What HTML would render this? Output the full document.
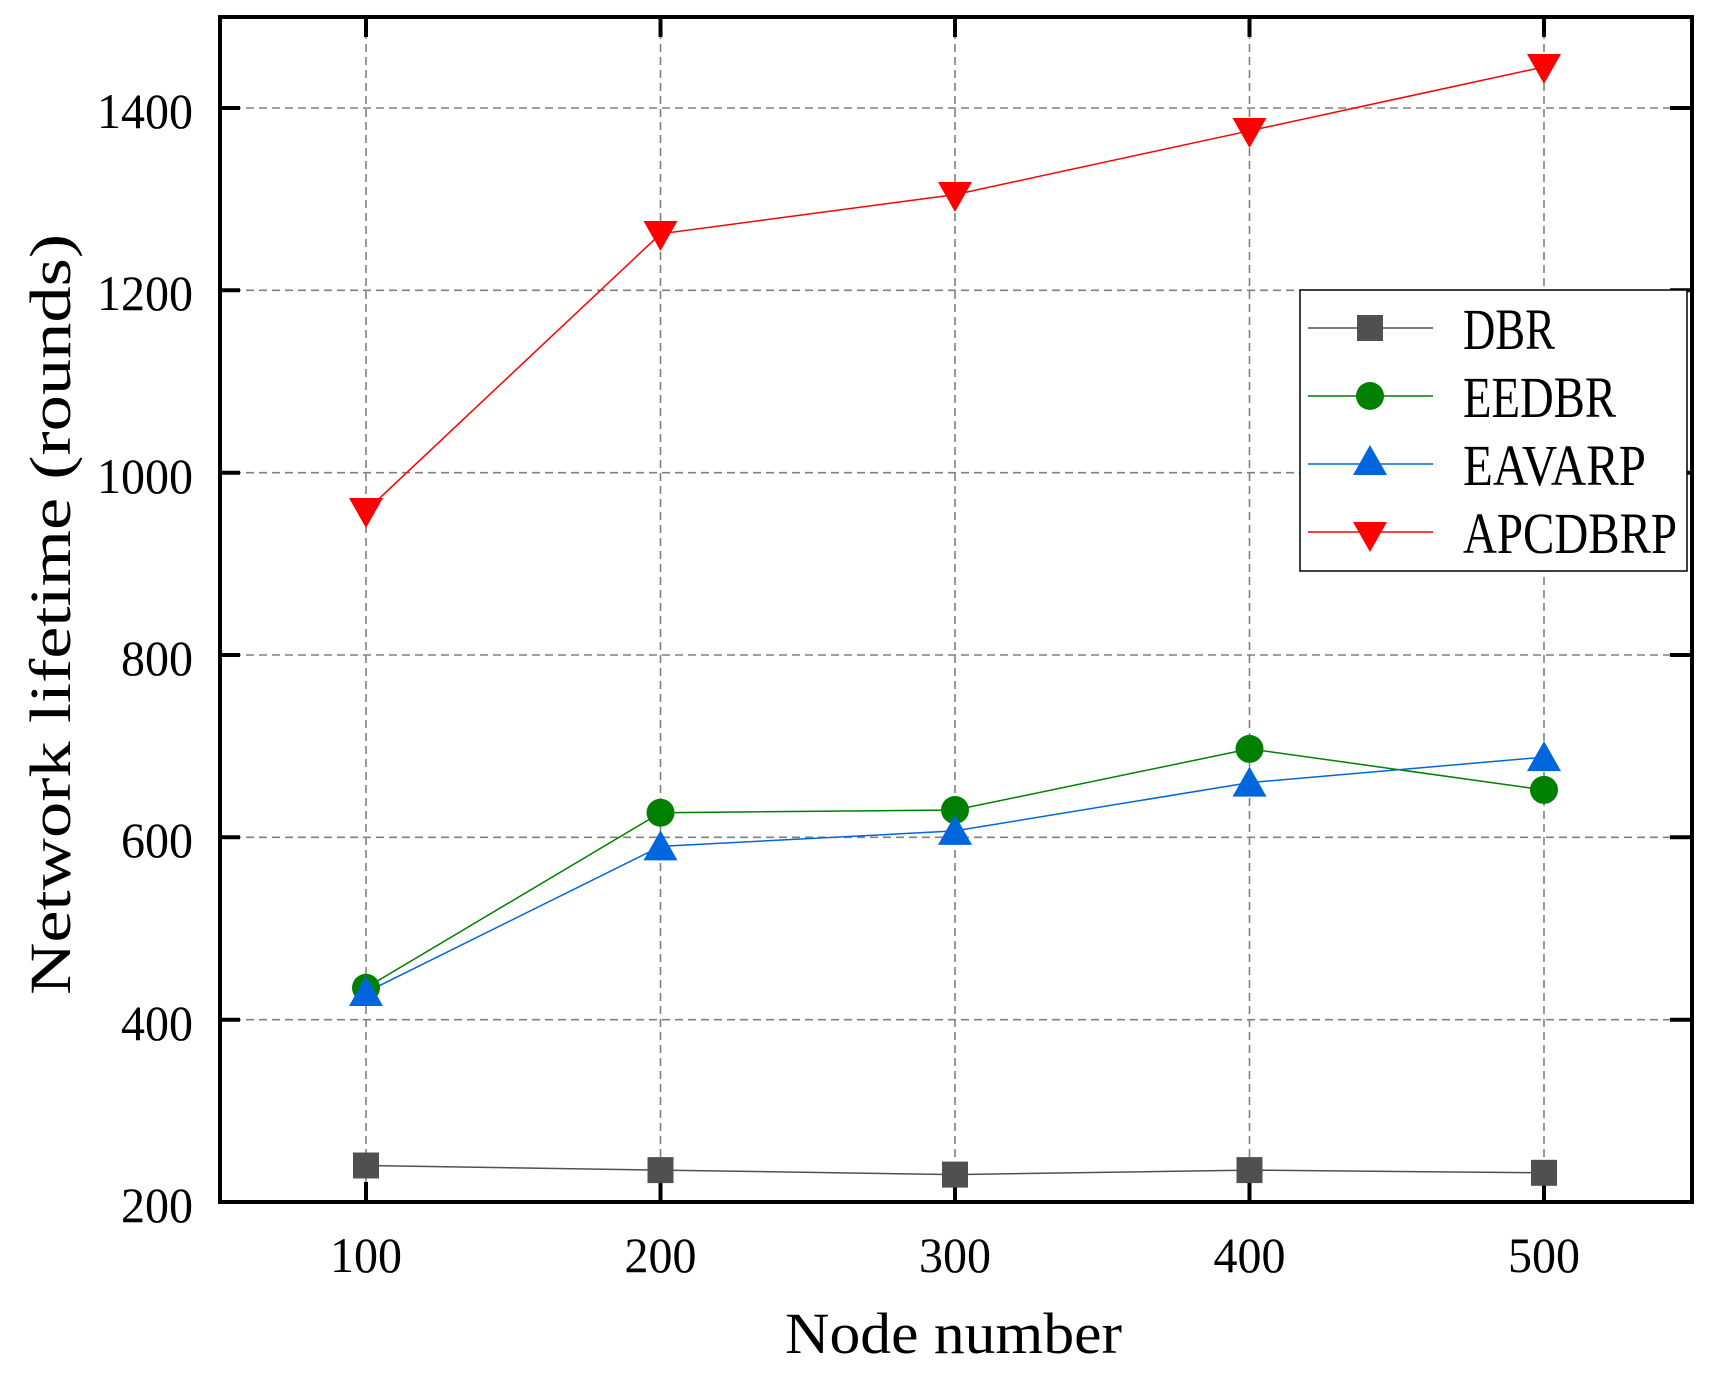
<!DOCTYPE html>
<html><head><meta charset="utf-8"><style>
html,body{margin:0;padding:0;background:#fff;}
svg{display:block;}
text{font-family:"Liberation Serif",serif;fill:#000;}
</style></head><body>
<svg width="1710" height="1375" viewBox="0 0 1710 1375" xmlns="http://www.w3.org/2000/svg">
<rect width="1710" height="1375" fill="#fff"/>
<g stroke="#808080" stroke-width="1.6" stroke-dasharray="8,5" fill="none">
<line x1="220" y1="108" x2="1690" y2="108"/>
<line x1="220" y1="290.3" x2="1690" y2="290.3"/>
<line x1="220" y1="472.7" x2="1690" y2="472.7"/>
<line x1="220" y1="655" x2="1690" y2="655"/>
<line x1="220" y1="837.3" x2="1690" y2="837.3"/>
<line x1="220" y1="1019.7" x2="1690" y2="1019.7"/>
<line x1="366" y1="18" x2="366" y2="1200"/>
<line x1="660.5" y1="18" x2="660.5" y2="1200"/>
<line x1="955" y1="18" x2="955" y2="1200"/>
<line x1="1249.5" y1="18" x2="1249.5" y2="1200"/>
<line x1="1544" y1="18" x2="1544" y2="1200"/>
</g>
<g stroke="#000" stroke-width="4">
<!-- left ticks -->
<line x1="220" y1="108" x2="240" y2="108"/><line x1="220" y1="290.3" x2="240" y2="290.3"/>
<line x1="220" y1="472.7" x2="240" y2="472.7"/><line x1="220" y1="655" x2="240" y2="655"/>
<line x1="220" y1="837.3" x2="240" y2="837.3"/><line x1="220" y1="1019.7" x2="240" y2="1019.7"/>
<!-- right ticks -->
<line x1="1670" y1="108" x2="1690" y2="108"/><line x1="1670" y1="290.3" x2="1690" y2="290.3"/>
<line x1="1670" y1="472.7" x2="1690" y2="472.7"/><line x1="1670" y1="655" x2="1690" y2="655"/>
<line x1="1670" y1="837.3" x2="1690" y2="837.3"/><line x1="1670" y1="1019.7" x2="1690" y2="1019.7"/>
<!-- bottom ticks -->
<line x1="366" y1="1182" x2="366" y2="1202"/><line x1="660.5" y1="1182" x2="660.5" y2="1202"/>
<line x1="955" y1="1182" x2="955" y2="1202"/><line x1="1249.5" y1="1182" x2="1249.5" y2="1202"/>
<line x1="1544" y1="1182" x2="1544" y2="1202"/>
<!-- top ticks -->
<line x1="366" y1="17" x2="366" y2="37"/><line x1="660.5" y1="17" x2="660.5" y2="37"/>
<line x1="955" y1="17" x2="955" y2="37"/><line x1="1249.5" y1="17" x2="1249.5" y2="37"/>
<line x1="1544" y1="17" x2="1544" y2="37"/>
</g>
<rect x="220" y="17" width="1472" height="1185" fill="none" stroke="#000" stroke-width="4"/>

<!-- series -->
<polyline fill="none" stroke="#505050" stroke-width="1.5" points="366,1165.5 660.5,1170.1 955,1174.6 1249.5,1170.1 1544,1172.8"/>
<polyline fill="none" stroke="#008000" stroke-width="1.5" points="366,987.8 660.5,812.7 955,810 1249.5,748.9 1544,789.9"/>
<polyline fill="none" stroke="#0066dd" stroke-width="1.5" points="366,992.3 660.5,846.4 955,830.9 1249.5,782.6 1544,757.1"/>
<polyline fill="none" stroke="#ff0000" stroke-width="1.5" points="366,510.9 660.5,233.8 955,194.6 1249.5,130.8 1544,66.9"/>
<g fill="#505050">
<rect x="353" y="1152.5" width="26" height="26"/><rect x="647.5" y="1157.1" width="26" height="26"/>
<rect x="942" y="1161.6" width="26" height="26"/><rect x="1236.5" y="1157.1" width="26" height="26"/>
<rect x="1531" y="1159.8" width="26" height="26"/>
</g>
<g fill="#008000">
<circle cx="366" cy="987.8" r="14"/><circle cx="660.5" cy="812.7" r="14"/><circle cx="955" cy="810" r="14"/>
<circle cx="1249.5" cy="748.9" r="14"/><circle cx="1544" cy="789.9" r="14"/>
</g>
<g fill="#0066dd">
<polygon points="366,976 383,1006 349,1006"/>
<polygon points="660.5,830.4 677.5,860.4 643.5,860.4"/>
<polygon points="955,814.9 972,844.9 938,844.9"/>
<polygon points="1249.5,766.6 1266.5,796.6 1232.5,796.6"/>
<polygon points="1544,741.1 1561,771.1 1527,771.1"/>
</g>
<g fill="#ff0000">
<polygon points="349,498 383,498 366,528"/>
<polygon points="643.5,221 677.5,221 660.5,251"/>
<polygon points="938,182 972,182 955,212"/>
<polygon points="1232.5,118 1266.5,118 1249.5,148"/>
<polygon points="1527,54 1561,54 1544,84"/>
</g>

<!-- legend -->
<rect x="1300" y="290" width="387" height="281" fill="#fff" stroke="#000" stroke-width="1.5"/>
<line x1="1308" y1="328" x2="1433" y2="328" stroke="#505050" stroke-width="1.5"/>
<rect x="1357" y="315" width="26" height="26" fill="#505050"/>
<line x1="1308" y1="396" x2="1433" y2="396" stroke="#008000" stroke-width="1.5"/>
<circle cx="1370" cy="396" r="14" fill="#008000"/>
<line x1="1308" y1="464" x2="1433" y2="464" stroke="#0066dd" stroke-width="1.5"/>
<polygon points="1370,445 1387,475 1353,475" fill="#0066dd"/>
<line x1="1308" y1="532" x2="1433" y2="532" stroke="#ff0000" stroke-width="1.5"/>
<polygon points="1353,522 1387,522 1370,552" fill="#ff0000"/>
<g font-size="58">
<text x="1463" y="349" textLength="92" lengthAdjust="spacingAndGlyphs">DBR</text>
<text x="1463" y="417" textLength="153" lengthAdjust="spacingAndGlyphs">EEDBR</text>
<text x="1463" y="485" textLength="183" lengthAdjust="spacingAndGlyphs">EAVARP</text>
<text x="1463" y="553" textLength="214" lengthAdjust="spacingAndGlyphs">APCDBRP</text>
</g>

<!-- tick labels -->
<g font-size="50" text-anchor="end">
<text x="193" y="128" textLength="96" lengthAdjust="spacingAndGlyphs">1400</text>
<text x="193" y="310" textLength="96" lengthAdjust="spacingAndGlyphs">1200</text>
<text x="193" y="493" textLength="96" lengthAdjust="spacingAndGlyphs">1000</text>
<text x="193" y="675" textLength="72" lengthAdjust="spacingAndGlyphs">800</text>
<text x="193" y="857" textLength="72" lengthAdjust="spacingAndGlyphs">600</text>
<text x="193" y="1040" textLength="72" lengthAdjust="spacingAndGlyphs">400</text>
<text x="193" y="1222" textLength="72" lengthAdjust="spacingAndGlyphs">200</text>
</g>
<g font-size="50" text-anchor="middle">
<text x="366" y="1272" textLength="72" lengthAdjust="spacingAndGlyphs">100</text>
<text x="660.5" y="1272" textLength="72" lengthAdjust="spacingAndGlyphs">200</text>
<text x="955" y="1272" textLength="72" lengthAdjust="spacingAndGlyphs">300</text>
<text x="1249.5" y="1272" textLength="72" lengthAdjust="spacingAndGlyphs">400</text>
<text x="1544" y="1272" textLength="72" lengthAdjust="spacingAndGlyphs">500</text>
</g>
<text x="785" y="1353" font-size="58" textLength="337" lengthAdjust="spacingAndGlyphs">Node number</text>
<text transform="translate(70,995) rotate(-90)" x="0" y="0" font-size="58" textLength="761" lengthAdjust="spacingAndGlyphs">Network lifetime (rounds)</text>
</svg>
</body></html>
